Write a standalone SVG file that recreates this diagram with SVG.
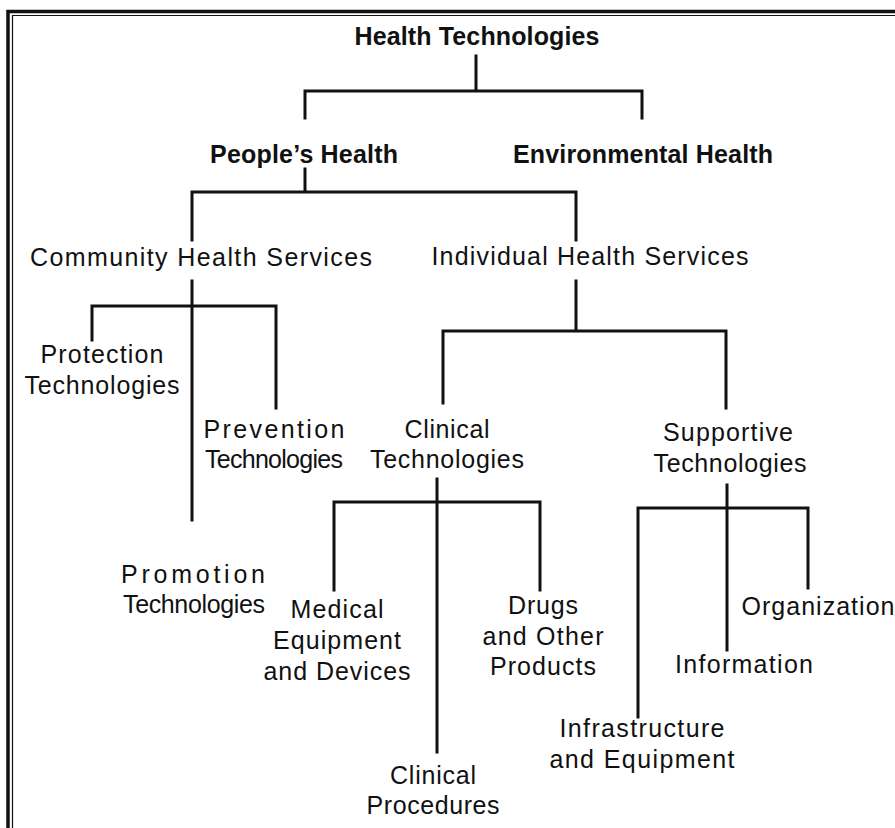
<svg xmlns="http://www.w3.org/2000/svg" width="895" height="828" viewBox="0 0 895 828">
<style>
  .b { font-family: "Liberation Sans", Arial, sans-serif; font-weight: bold; font-size: 25px; fill: #111; text-anchor: middle; }
  .t { font-family: "Liberation Sans", Arial, sans-serif; font-size: 25px; fill: #111; text-anchor: middle; }
  .c { fill: none; stroke: #111; stroke-width: 3; stroke-linecap: square; }
  .f1 { fill: none; stroke: #111; stroke-width: 3.5; }
  .f2 { fill: none; stroke: #111; stroke-width: 1.2; }
</style>
<rect width="895" height="828" fill="#fff"/>
<g id="frame">
  <path class="f1" d="M8 828 V11.5 H895"/>
  <path class="f2" d="M12.5 828 V15.5 H895"/>
</g>
<g id="connectors">
  <path class="c" d="M476 56 V91 M305 118 V91 H642 V118"/>
  <path class="c" d="M305 169 V192 M192 240 V192 H576 V240"/>
  <path class="c" d="M192 281 V520 M92 340 V306 H276 V408"/>
  <path class="c" d="M576 281 V331 M443 403 V331 H726 V408"/>
  <path class="c" d="M437 479 V752 M334 590 V502 H540 V590"/>
  <path class="c" d="M727 485 V650 M638 717 V508 H808 V588"/>
</g>
<g id="health-technologies"><text class="b" x="477" y="45" textLength="245" lengthAdjust="spacing">Health Technologies</text></g>
<g id="peoples-health"><text class="b" x="304" y="163" textLength="188" lengthAdjust="spacing">People’s Health</text></g>
<g id="environmental-health"><text class="b" x="643" y="163" textLength="260" lengthAdjust="spacing">Environmental Health</text></g>
<g id="community-health-services"><text class="t" x="201" y="266" textLength="342" lengthAdjust="spacing">Community Health Services</text></g>
<g id="individual-health-services"><text class="t" x="590" y="265" textLength="317" lengthAdjust="spacing">Individual Health Services</text></g>
<g id="protection-technologies">
  <text class="t" x="102" y="363" textLength="123" lengthAdjust="spacing">Protection</text>
  <text class="t" x="102" y="394" textLength="155" lengthAdjust="spacing">Technologies</text>
</g>
<g id="prevention-technologies">
  <text class="t" x="274" y="438" textLength="141" lengthAdjust="spacing">Prevention</text>
  <text class="t" x="274" y="468" textLength="138" lengthAdjust="spacing">Technologies</text>
</g>
<g id="promotion-technologies">
  <text class="t" x="193" y="583" textLength="144" lengthAdjust="spacing">Promotion</text>
  <text class="t" x="194" y="613" textLength="142" lengthAdjust="spacing">Technologies</text>
</g>
<g id="clinical-technologies">
  <text class="t" x="447" y="438" textLength="85" lengthAdjust="spacing">Clinical</text>
  <text class="t" x="447" y="468" textLength="154" lengthAdjust="spacing">Technologies</text>
</g>
<g id="supportive-technologies">
  <text class="t" x="728" y="441" textLength="130" lengthAdjust="spacing">Supportive</text>
  <text class="t" x="730" y="472" textLength="153" lengthAdjust="spacing">Technologies</text>
</g>
<g id="medical-equipment">
  <text class="t" x="337" y="618" textLength="93" lengthAdjust="spacing">Medical</text>
  <text class="t" x="337" y="649" textLength="128" lengthAdjust="spacing">Equipment</text>
  <text class="t" x="337" y="680" textLength="147" lengthAdjust="spacing">and Devices</text>
</g>
<g id="drugs">
  <text class="t" x="543" y="614" textLength="70" lengthAdjust="spacing">Drugs</text>
  <text class="t" x="543" y="645" textLength="121" lengthAdjust="spacing">and Other</text>
  <text class="t" x="543" y="675" textLength="106" lengthAdjust="spacing">Products</text>
</g>
<g id="clinical-procedures">
  <text class="t" x="433" y="784" textLength="86" lengthAdjust="spacing">Clinical</text>
  <text class="t" x="433" y="814" textLength="133" lengthAdjust="spacing">Procedures</text>
</g>
<g id="organization"><text class="t" x="818" y="615" textLength="153" lengthAdjust="spacing">Organization</text></g>
<g id="information"><text class="t" x="744" y="673" textLength="138" lengthAdjust="spacing">Information</text></g>
<g id="infrastructure">
  <text class="t" x="642" y="737" textLength="165" lengthAdjust="spacing">Infrastructure</text>
  <text class="t" x="642" y="768" textLength="185" lengthAdjust="spacing">and Equipment</text>
</g>
</svg>
